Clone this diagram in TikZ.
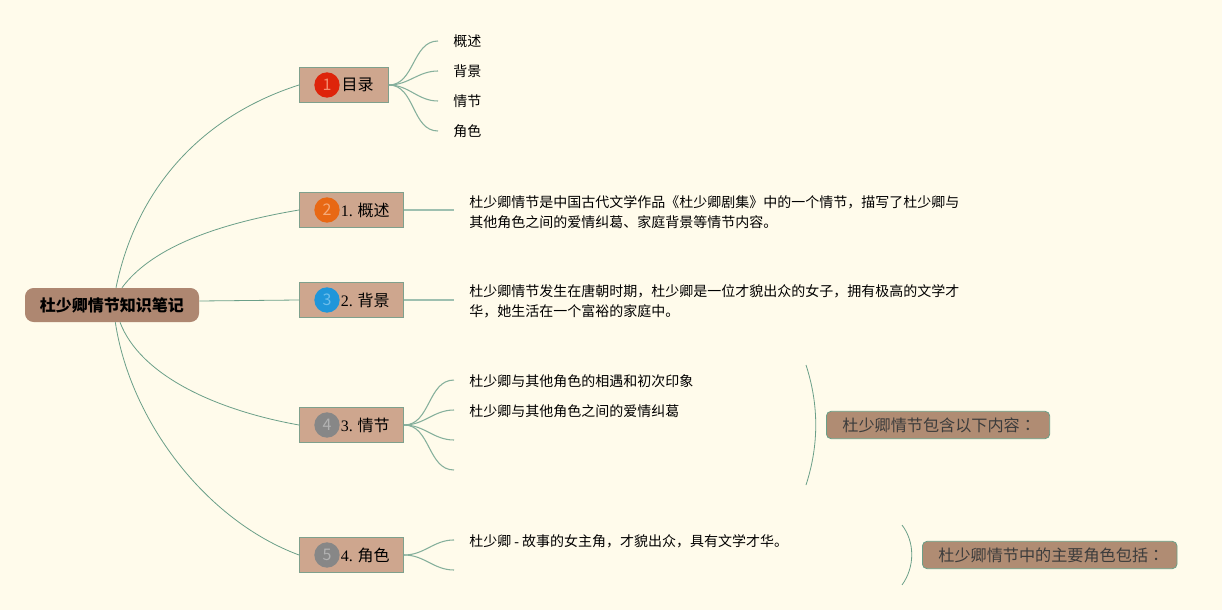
\documentclass[tikz,border=0pt]{standalone}
\usepackage{fontspec}
\setmainfont{Noto Sans CJK SC}
\newfontfamily\lat{Liberation Serif}
\newfontfamily\tcfont{Noto Sans CJK TC}
\definecolor{bgc}{HTML}{FFFBEB}
\definecolor{topicfill}{HTML}{CEA68E}
\definecolor{calloutfill}{HTML}{B08C73}
\definecolor{rootfill}{HTML}{AE8771}
\definecolor{edgec}{HTML}{6B9F88}
\definecolor{leafedge}{HTML}{86B09C}
\definecolor{topicedge}{HTML}{7FA08C}
\definecolor{darktxt}{HTML}{3C3C3C}
\tikzset{
  topic/.style={draw=topicedge,line width=.9pt,fill=topicfill,minimum height=26.2pt,anchor=west,inner xsep=0pt,inner ysep=0pt,text=black,font=\fontsize{12pt}{14pt}\selectfont},
  badge/.style={circle,minimum size=19pt,inner sep=0pt,font=\fontsize{12pt}{14pt}\selectfont},
  rootnode/.style={rounded corners=6.5pt,fill=rootfill,minimum width=130.5pt,minimum height=25.5pt,inner sep=0pt,font=\fontsize{12pt}{14pt}\selectfont\bfseries,text=black},
  callout/.style={draw=edgec,line width=.6pt,rounded corners=3.5pt,fill=calloutfill,minimum height=20.5pt,inner sep=0pt,anchor=west,text=darktxt,font=\fontsize{12.1pt}{15pt}\selectfont},
  leaf/.style={anchor=west,inner xsep=11.25pt,inner ysep=0pt,align=left,text=black,font=\fontsize{10.5pt}{15pt}\selectfont},
  link/.style={draw=edgec,line width=.6pt},
  sublink/.style={draw=leafedge,line width=.8pt},
  straightlink/.style={draw=leafedge!80,line width=1.1pt},
  bracket/.style={draw=edgec,line width=.6pt}
}
\begin{document}
\begin{tikzpicture}[x=.75pt,y=-.75pt]
\useasboundingbox[fill=bgc] (0,0) rectangle (1222,610);
% root
\node[rootnode] (root) at (112,305) {杜少卿情节知识笔记};
% topics
\node[topic,minimum width=66.5pt] (t0) at (299,85) {\makebox[66.5pt][l]{\hspace*{31.5pt}\raisebox{-1.2pt}{目录}}};
\node[topic,minimum width=78pt] (t1) at (299,210) {\makebox[78pt][l]{\hspace*{31pt}\raisebox{-1.2pt}{{\lat 1.} 概述}}};
\node[topic,minimum width=78pt] (t2) at (299,300) {\makebox[78pt][l]{\hspace*{31pt}\raisebox{-1.2pt}{{\lat 2.} 背景}}};
\node[topic,minimum width=78pt] (t3) at (299,425) {\makebox[78pt][l]{\hspace*{31pt}\raisebox{-1.2pt}{{\lat 3.} 情节}}};
\node[topic,minimum width=78pt] (t4) at (299,555) {\makebox[78pt][l]{\hspace*{31pt}\raisebox{-1.2pt}{{\lat 4.} 角色}}};
% badges
\node[badge,fill={rgb,255:red,222;green,36;blue,10},text={rgb,255:red,245;green,140;blue,110}] (b0) at (327,85) {1};
\node[badge,fill={rgb,255:red,232;green,104;blue,20},text={rgb,255:red,245;green,170;blue,120}] (b1) at (327,210) {2};
\node[badge,fill={rgb,255:red,32;green,150;blue,218},text={rgb,255:red,110;green,190;blue,235}] (b2) at (327,300) {3};
\node[badge,fill=black!47,text=black!30] (b3) at (327,425) {4};
\node[badge,fill=black!47,text=black!30] (b4) at (327,555) {5};
% leaves of the table of contents
\node[leaf] (a1) at (438,41) {概述};
\node[leaf] (a2) at (438,71) {背景};
\node[leaf] (a3) at (438,101) {情节};
\node[leaf] (a4) at (438,131) {角色};
% descriptions
\node[leaf] (d1) at (454,211.7) {杜少卿情节是中国古代文学作品《杜少卿剧集》中的一个情节，描写了杜少卿与\\其他角色之间的爱情纠葛、家庭背景等情节内容。};
\node[leaf] (d2) at (454,301.7) {杜少卿情节发生在唐朝时期，杜少卿是一位才貌出众的女子，拥有极高的文学才\\华，她生活在一个富裕的家庭中。};
\node[leaf] (p1) at (454,381.5) {杜少卿与其他角色的相遇和初次印象};
\node[leaf] (p2) at (454,411.2) {杜少卿与其他角色之间的爱情纠葛};
\coordinate (p3) at (454,440);
\coordinate (p4) at (454,470);
\node[leaf] (r1) at (454,541.7) {杜少卿 {\lat -} 故事的女主角，才貌出众，具有文学才华。};
\coordinate (r2) at (454,570);
% callouts
\node[callout,minimum width=167.5pt] (c1) at (826,425) {\makebox[167.5pt][l]{\hspace*{12pt}杜少卿情节包含以下内容{\tcfont ：}}};
\node[callout,minimum width=191pt] (c2) at (922,555) {\makebox[191pt][l]{\hspace*{12pt}杜少卿情节中的主要角色包括{\tcfont ：}}};
% brackets
\coordinate (k1a) at (806,365);
\coordinate (k1b) at (806,485);
\coordinate (k2a) at (902,525);
\coordinate (k2b) at (902,585);
\draw[bracket] (k1a) .. controls (819,405) and (819,445) .. (k1b);
\draw[bracket] (k2a) .. controls (915,542) and (915,567) .. (k2b);
% root connectors
\draw[link] ([xshift=3pt]root.north) .. controls (137,185) and (205,115) .. (t0.west);
\draw[link] ([xshift=7.5pt]root.north) .. controls (150,250) and (210,225) .. (t1.west);
\draw[link] ([yshift=3pt]root.east) -- (t2.west);
\draw[link] ([xshift=6pt]root.south) .. controls (140,375) and (215,410) .. (t3.west);
\draw[link] ([xshift=2.5pt]root.south) .. controls (130,420) and (205,520) .. (t4.west);
% second-level connectors
\foreach \e in {a1,a2,a3,a4}{
  \draw[sublink] (t0.east) to[out=0,in=180] (\e.west);
}
\draw[straightlink] (t1.east) -- (t1.east -| d1.west);
\draw[straightlink] (t2.east) -- (t2.east -| d2.west);
\draw[sublink] (t3.east) to[out=0,in=180] ([yshift=1.1pt]p1.west);
\draw[sublink] (t3.east) to[out=0,in=180] ([yshift=.9pt]p2.west);
\draw[sublink] (t3.east) to[out=0,in=180] (p3);
\draw[sublink] (t3.east) to[out=0,in=180] (p4);
\draw[sublink] (t4.east) to[out=0,in=180] ([yshift=1.3pt]r1.west);
\draw[sublink] (t4.east) to[out=0,in=180] (r2);
\end{tikzpicture}
\end{document}
